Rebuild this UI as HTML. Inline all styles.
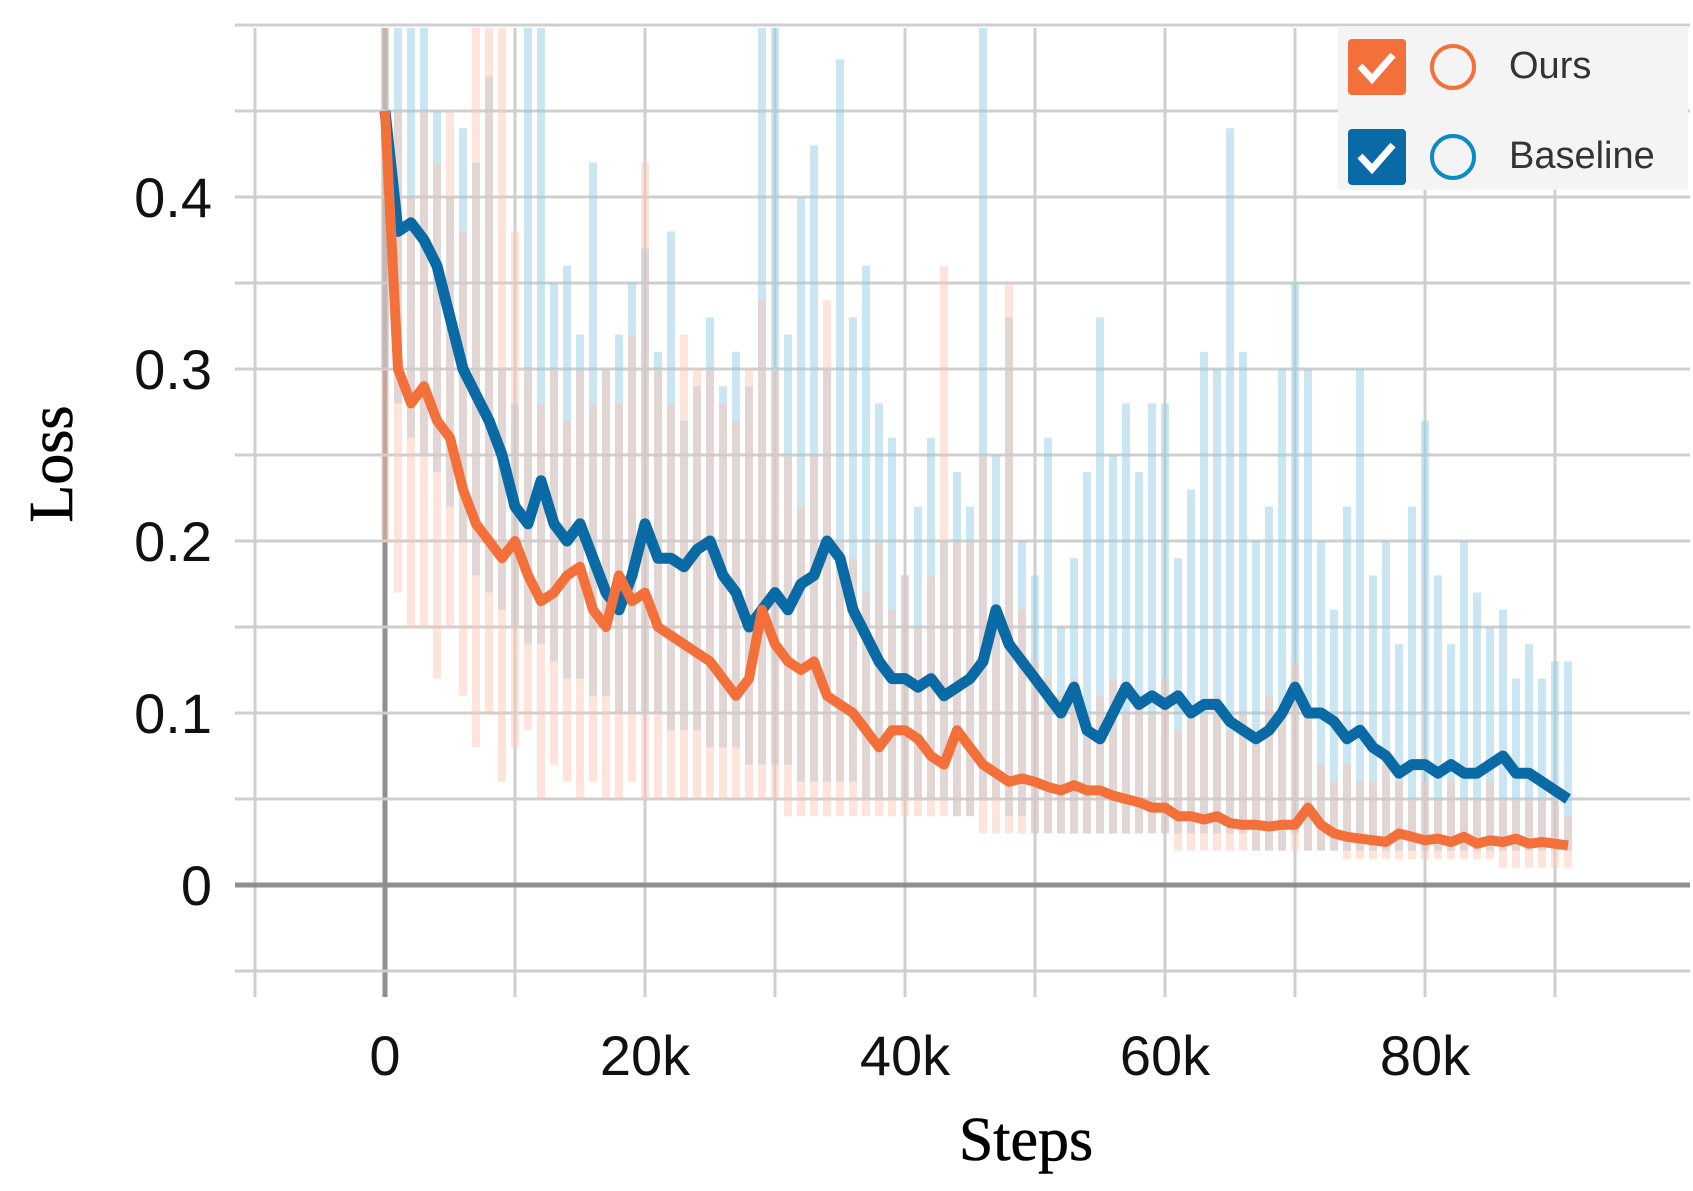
<!DOCTYPE html>
<html><head><meta charset="utf-8"><style>
html,body{margin:0;padding:0;background:#fff;}
svg{display:block;}
</style></head><body>
<svg id="chart" width="1693" height="1191" viewBox="0 0 1693 1191" xmlns="http://www.w3.org/2000/svg">
<rect width="1693" height="1191" fill="#fff"/>
<g id="grid"></g>
<clipPath id="clip"><rect x="240" y="28" width="1445" height="975"/></clipPath>
<g id="marks" clip-path="url(#clip)"></g>
<g id="ticks"></g>
<text x="1026" y="1160" font-family="Liberation Serif, serif" font-size="62" text-anchor="middle" fill="#000" stroke="#000" stroke-width="0.6">Steps</text>
<text transform="translate(72,464) rotate(-90)" font-family="Liberation Serif, serif" font-size="62" text-anchor="middle" fill="#000" stroke="#000" stroke-width="0.6">Loss</text>
<g>
<rect x="1338" y="26" width="350" height="164" fill="#f4f4f4"/>
<g>
<rect x="1348" y="39" width="58" height="56" rx="4" fill="#f4703a"/>
<path d="M1360 66 L1372 79 L1393 55" stroke="#fff" stroke-width="7" fill="none"/>
<circle cx="1453" cy="67" r="21" fill="none" stroke="#f4703a" stroke-width="4"/>
<text x="1509" y="78" font-family="Liberation Sans, sans-serif" font-size="38" fill="#333">Ours</text>
</g>
<g>
<rect x="1348" y="129" width="58" height="56" rx="4" fill="#0a6aa6"/>
<path d="M1360 156 L1372 169 L1393 145" stroke="#fff" stroke-width="7" fill="none"/>
<circle cx="1453" cy="157" r="21" fill="none" stroke="#0c8ac6" stroke-width="4"/>
<text x="1509" y="168" font-family="Liberation Sans, sans-serif" font-size="38" fill="#333">Baseline</text>
</g>
</g>
</svg>
<script>
const xTicks=[0,20,40,60,80];
const xTickLabels=["0","20k","40k","60k","80k"];
const yTicks=[0,0.1,0.2,0.3,0.4];
const yTickLabels=["0","0.1","0.2","0.3","0.4"];
const steps=[0,1,2,3,4,5,6,7,8,9,10,11,12,13,14,15,16,17,18,19,20,21,22,23,24,25,26,27,28,29,30,31,32,33,34,35,36,37,38,39,40,41,42,43,44,45,46,47,48,49,50,51,52,53,54,55,56,57,58,59,60,61,62,63,64,65,66,67,68,69,70,71,72,73,74,75,76,77,78,79,80,81,82,83,84,85,86,87,88,89,90,91];
const baselineSmooth=[0.45,0.38,0.385,0.375,0.36,0.33,0.3,0.285,0.27,0.25,0.22,0.21,0.235,0.21,0.2,0.21,0.19,0.17,0.16,0.18,0.21,0.19,0.19,0.185,0.195,0.2,0.18,0.17,0.15,0.16,0.17,0.16,0.175,0.18,0.2,0.19,0.16,0.145,0.13,0.12,0.12,0.115,0.12,0.11,0.115,0.12,0.13,0.16,0.14,0.13,0.12,0.11,0.1,0.115,0.09,0.085,0.1,0.115,0.105,0.11,0.105,0.11,0.1,0.105,0.105,0.095,0.09,0.085,0.09,0.1,0.115,0.1,0.1,0.095,0.085,0.09,0.08,0.075,0.065,0.07,0.07,0.065,0.07,0.065,0.065,0.07,0.075,0.065,0.065,0.06,0.055,0.05];
const oursSmooth=[0.45,0.3,0.28,0.29,0.27,0.26,0.23,0.21,0.2,0.19,0.2,0.18,0.165,0.17,0.18,0.185,0.16,0.15,0.18,0.165,0.17,0.15,0.145,0.14,0.135,0.13,0.12,0.11,0.12,0.16,0.14,0.13,0.125,0.13,0.11,0.105,0.1,0.09,0.08,0.09,0.09,0.085,0.075,0.07,0.09,0.08,0.07,0.065,0.06,0.062,0.06,0.057,0.055,0.058,0.055,0.055,0.052,0.05,0.048,0.045,0.045,0.04,0.04,0.038,0.04,0.036,0.035,0.035,0.034,0.035,0.035,0.045,0.035,0.03,0.028,0.027,0.026,0.025,0.03,0.028,0.026,0.027,0.025,0.028,0.024,0.026,0.025,0.027,0.024,0.025,0.024,0.023];
const baselineRawHigh=[0.5,0.5,0.5,0.5,0.45,0.4,0.44,0.42,0.47,0.3,0.28,0.5,0.5,0.35,0.36,0.32,0.42,0.3,0.32,0.35,0.37,0.31,0.38,0.27,0.29,0.33,0.29,0.31,0.29,0.5,0.5,0.32,0.4,0.43,0.3,0.48,0.33,0.36,0.28,0.26,0.18,0.22,0.26,0.2,0.24,0.22,0.5,0.25,0.33,0.2,0.18,0.26,0.15,0.19,0.24,0.33,0.25,0.28,0.24,0.28,0.28,0.19,0.23,0.31,0.3,0.44,0.31,0.2,0.22,0.3,0.35,0.3,0.2,0.16,0.22,0.3,0.18,0.2,0.14,0.22,0.27,0.18,0.14,0.2,0.17,0.15,0.16,0.12,0.14,0.12,0.13,0.13];
const baselineRawLow=[0.3,0.28,0.26,0.25,0.24,0.22,0.2,0.18,0.17,0.16,0.15,0.14,0.14,0.13,0.12,0.12,0.11,0.11,0.1,0.1,0.1,0.1,0.09,0.09,0.09,0.08,0.08,0.08,0.07,0.07,0.07,0.07,0.06,0.06,0.06,0.06,0.06,0.05,0.05,0.05,0.05,0.05,0.05,0.05,0.04,0.04,0.05,0.05,0.04,0.04,0.03,0.03,0.03,0.03,0.03,0.03,0.03,0.03,0.03,0.03,0.03,0.03,0.03,0.03,0.03,0.03,0.03,0.02,0.02,0.02,0.03,0.02,0.02,0.02,0.02,0.02,0.02,0.02,0.02,0.02,0.02,0.02,0.02,0.02,0.02,0.02,0.02,0.02,0.02,0.02,0.02,0.02];
const oursRawHigh=[0.5,0.45,0.4,0.45,0.42,0.45,0.38,0.5,0.5,0.5,0.38,0.3,0.28,0.3,0.27,0.3,0.28,0.3,0.28,0.32,0.42,0.3,0.28,0.32,0.3,0.3,0.28,0.27,0.3,0.34,0.3,0.25,0.22,0.25,0.34,0.2,0.19,0.17,0.2,0.16,0.18,0.15,0.18,0.36,0.2,0.2,0.25,0.15,0.35,0.16,0.13,0.12,0.11,0.12,0.1,0.11,0.12,0.1,0.11,0.1,0.12,0.09,0.1,0.1,0.11,0.09,0.1,0.09,0.11,0.1,0.13,0.1,0.07,0.06,0.07,0.06,0.06,0.07,0.06,0.05,0.06,0.05,0.06,0.05,0.05,0.06,0.05,0.05,0.05,0.05,0.05,0.04];
const oursRawLow=[0.2,0.17,0.15,0.15,0.12,0.15,0.11,0.08,0.1,0.06,0.08,0.09,0.05,0.07,0.06,0.05,0.06,0.05,0.05,0.06,0.05,0.05,0.05,0.05,0.05,0.05,0.05,0.05,0.05,0.05,0.05,0.04,0.04,0.04,0.04,0.04,0.04,0.04,0.04,0.04,0.04,0.04,0.04,0.04,0.04,0.04,0.03,0.03,0.03,0.03,0.03,0.03,0.03,0.03,0.03,0.03,0.03,0.03,0.03,0.03,0.03,0.02,0.02,0.02,0.02,0.02,0.02,0.02,0.02,0.02,0.02,0.02,0.02,0.02,0.015,0.015,0.015,0.015,0.015,0.015,0.015,0.015,0.015,0.015,0.015,0.015,0.01,0.01,0.01,0.01,0.01,0.01];

const NS="http://www.w3.org/2000/svg";
function X(k){return 385+k*13.0;}
function Y(v){return 885-v*1720;}
const grid=document.getElementById('grid');
const marks=document.getElementById('marks');
const ticks=document.getElementById('ticks');
function mk(tag,attrs,parent){const e=document.createElementNS(NS,tag);for(const a in attrs)e.setAttribute(a,attrs[a]);parent.appendChild(e);return e;}

for(let k=-10;k<=90;k+=10){
  const l=mk('line',{x1:X(k),x2:X(k),y1:28,y2:997,stroke:k===0?'#8f8f8f':'#cfcfcf','stroke-width':k===0?5:3},grid);
  
  
}
for(let i=-1;i<=10;i++){
  const v=i*0.05;
  const l=mk('line',{x1:235,x2:1690,y1:Y(v),y2:Y(v),stroke:i===0?'#8f8f8f':'#cfcfcf','stroke-width':i===0?5:3},grid);
  
  
}
xTicks.forEach((k,i)=>{
  const t=mk('text',{x:X(k),y:1075,'font-family':'Liberation Sans, sans-serif','font-size':56,'text-anchor':'middle',fill:'#111'},ticks);
  t.textContent=xTickLabels[i];
  
  
});
yTicks.forEach((v,i)=>{
  const t=mk('text',{x:212,y:Y(v)+20,'font-family':'Liberation Sans, sans-serif','font-size':56,'text-anchor':'end',fill:'#111'},ticks);
  t.textContent=yTickLabels[i];
  
  
});
function raw(high,low,color,name){
  steps.forEach((k,i)=>{
    const y1=Y(high[i]),y2=Y(low[i]);
    const r=mk('rect',{x:X(k)-4,y:y1,width:8,height:y2-y1,fill:color},marks);
    
    
  });
}
raw(baselineRawHigh,baselineRawLow,'rgba(150,205,232,0.5)','baseline-raw-bar');
raw(oursRawHigh,oursRawLow,'rgba(252,195,175,0.45)','ours-raw-bar');
function line(vals,color,w,name){
  const d=steps.map((k,i)=>(i?'L':'M')+X(k).toFixed(1)+' '+Y(vals[i]).toFixed(1)).join(' ');
  const p=mk('path',{d:d,fill:'none',stroke:color,'stroke-width':w,'stroke-linejoin':'round'},marks);
  
  
}
line(baselineSmooth,'#0a6aa6',11,'baseline-smoothed-line');
line(oursSmooth,'#f4703a',10,'ours-smoothed-line');
</script>
</body></html>
